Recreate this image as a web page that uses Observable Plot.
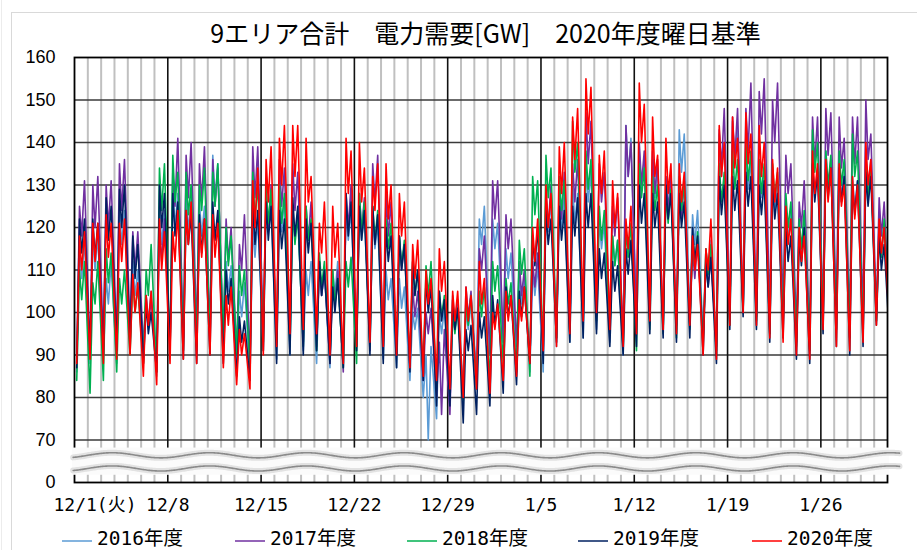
<!DOCTYPE html>
<html><head><meta charset="utf-8">
<script src="https://cdn.jsdelivr.net/npm/d3@7"></script>
<script src="https://cdn.jsdelivr.net/npm/@observablehq/plot@0.6"></script>
<style>
html,body{margin:0;padding:0;background:#fff;}
body{width:917px;height:550px;overflow:hidden;position:relative;font-family:"Liberation Sans","Noto Sans CJK JP",sans-serif;}
#frame{position:absolute;left:11px;top:12px;width:920px;height:560px;border-left:1.5px solid #d9d9d9;border-top:1.5px solid #d9d9d9;}
#frame2{position:absolute;left:1px;top:0;width:1px;height:550px;background:#ececec;}
#title{position:absolute;top:17px;left:54px;width:863px;text-align:center;font-family:"Noto Sans CJK JP",sans-serif;font-size:25px;line-height:30px;color:#000;white-space:pre;}
#chart{position:absolute;left:0;top:0;}
#legend{position:absolute;top:527px;left:0;width:917px;height:23px;font-family:"DejaVu Sans Mono","Noto Sans CJK JP",monospace;font-size:19.5px;}
.item{position:absolute;top:0;height:23px;display:flex;align-items:center;white-space:nowrap;}
.item span{line-height:23px;}
.item svg{margin-right:5px;}
</style></head>
<body>
<div id="frame2"></div>
<div id="frame"></div>
<div id="chart"></div>
<div id="title"></div>
<div id="legend"></div>
<script>
// ---- labels ----
const titleText = "9エリア合計　電力需要[GW]　2020年度曜日基準";
const seriesNames = ["2016年度", "2017年度", "2018年度", "2019年度", "2020年度"];
const seriesColors = ["#5B9BD5", "#7030A0", "#00B050", "#002060", "#FF0000"];
const xTickDays = [0, 7, 14, 21, 28, 35, 42, 49, 56];
const xTickLabels = ["12/1(火)", "12/8", "12/15", "12/22", "12/29", "1/5", "1/12", "1/19", "1/26"];
const yTicks = [60, 70, 80, 90, 100, 110, 120, 130, 140, 150, 160];
const yTickLabels = ["0", "70", "80", "90", "100", "110", "120", "130", "140", "150", "160"];
const dayCount = 61; // 12/1 .. 1/30

// ---- daily readings per series [GW]: night trough (~4h), morning peak (~9h), midday (~13h), evening peak (~18h) ----
const low2016 = [86,88,89,88,91,88,85,90,91,91, 92,92,89,86,91,89,90,91,88,87, 90,92,92,89,87,84,80,75,78,82, 86,90,93,90,86,86,92,93,94,96, 93,90,98,97,96,96,99,94,91,99, 100,97,95,96,92,91,97,96,94,95, 98,100];
const am2016  = [115,118,108,125,112,104,125,130,128,126, 137,112,105,120,128,128,125,110,112,110, 125,125,122,110,108,100,90,100,104,101, 122,122,115,108,110,128,128,130,135,122, 118,144,138,136,132,143,123,115,142,145, 138,135,132,125,120,135,138,135,132,138, 122];
const mid2016 = [108,110,102,116,104,98,116,120,119,118, 126,105,99,113,119,119,117,104,104,104, 117,117,115,103,101,96,70,95,98,96, 116,115,108,102,104,119,120,121,126,115, 111,132,129,127,124,133,116,109,132,135, 129,127,124,117,114,127,129,127,124,129, 114];
const pm2016  = [117,118,112,124,110,105,124,128,127,125, 135,111,107,122,126,127,124,112,110,112, 124,123,121,108,106,101,92,101,103,102, 125,121,114,109,111,126,127,128,133,121, 117,141,136,134,130,142,124,117,140,143, 136,134,131,124,122,134,136,133,131,136, 120];

const low2017 = [88,90,92,93,96,92,88,92,94,95, 95,94,90,88,96,94,94,93,92,88, 86,92,91,92,90,87,84,80,76,80, 83,90,93,92,88,90,94,95,97,100, 97,94,98,98,96,97,97,94,92,98, 100,99,98,100,96,94,100,100,98,99, 100,96];
const am2017  = [125,130,130,135,119,104,120,133,137,135, 136,122,116,139,128,136,135,125,112,108, 128,128,135,128,118,106,100,93,100,106, 115,131,123,112,112,128,130,135,147,135, 125,144,140,138,132,130,115,112,143,146, 148,152,150,137,126,146,148,146,146,150, 127];
const mid2017 = [118,120,120,124,110,97,112,125,127,126, 125,112,110,127,120,125,124,117,104,102, 120,119,126,118,110,99,95,76,96,99, 110,122,115,104,106,120,122,126,135,126, 118,132,130,128,124,122,108,106,134,136, 138,142,140,128,120,135,137,134,135,136, 118];
const pm2017  = [131,132,131,136,119,103,122,141,140,139, 134,120,123,139,130,134,133,126,110,110, 130,127,137,126,116,105,101,96,102,105, 118,131,122,110,114,130,133,136,145,133, 127,140,138,136,133,131,117,113,148,148, 154,155,154,135,131,146,147,141,146,142, 126];

const low2018 = [84,81,84,86,90,88,86,90,91,92, 93,93,90,87,93,93,92,92,91,89, 87,88,92,92,90,88,85,82,80,79, 82,84,88,86,85,91,94,95,97,98, 95,91,91,96,95,94,96,92,90,97, 100,98,95,97,93,91,98,96,94,95, 98,95];
const am2018  = [110,107,115,108,108,110,134,137,133,130, 133,120,111,133,130,130,124,125,114,110, 112,128,125,122,118,112,111,105,100,103, 105,112,108,117,132,137,132,145,138,125, 118,120,135,132,128,132,118,115,135,138, 140,136,135,128,122,143,138,138,142,135, 120];
const mid2018 = [103,102,107,102,100,104,124,126,123,124, 125,111,104,122,121,121,116,117,106,102, 106,119,117,115,111,104,104,99,95,97, 99,105,102,109,123,127,124,133,129,117, 111,113,127,124,121,124,111,109,126,129, 131,128,127,120,115,133,130,130,132,127, 113];
const pm2018  = [112,112,114,110,106,116,135,133,130,134, 135,118,110,130,129,128,123,122,112,108, 113,126,124,121,117,110,112,104,101,104, 106,111,107,115,131,134,131,140,136,124, 117,121,134,130,129,131,119,116,133,136, 138,135,133,126,124,140,137,136,138,134, 122];

const low2019 = [87,90,90,91,92,88,86,91,89,88, 90,88,85,84,91,88,90,90,91,88, 87,91,90,88,87,86,84,78,78,74, 76,78,81,83,88,88,93,93,94,95, 92,90,92,95,94,93,94,90,88,96, 99,96,93,94,89,88,95,92,90,92, 97,93];
const am2019  = [122,122,127,129,118,102,130,128,124,123, 126,110,99,126,126,124,127,122,112,106, 128,125,125,120,118,112,108,105,103,96, 100,104,106,105,118,124,125,125,128,115, 112,115,130,128,130,128,120,112,132,132, 133,130,130,120,118,135,135,134,130,133, 118];
const mid2019 = [114,113,117,120,108,95,120,118,116,114, 117,102,93,116,117,115,118,114,104,100, 118,117,116,112,110,104,100,98,96,91, 94,97,99,99,111,116,117,118,120,108, 105,109,121,120,122,120,112,106,123,124, 125,123,122,112,111,126,127,126,123,125, 110];
const pm2019  = [122,121,125,130,116,100,128,126,123,122, 124,108,98,124,125,122,125,121,110,108, 126,124,123,118,116,110,106,103,101,97, 99,103,104,106,120,122,124,127,128,114, 111,117,128,126,128,126,118,113,130,131, 132,131,128,118,120,133,134,132,131,132, 116];

const low2020 = [88,89,88,89,90,85,83,88,89,88, 90,87,83,82,90,92,95,96,95,90, 88,92,93,92,90,87,85,84,82,80, 82,81,84,85,88,91,92,95,98,100, 96,92,95,98,96,95,97,90,89,97, 100,97,94,93,90,89,96,92,91,93, 97,95];
const am2020  = [118,121,123,121,109,104,122,119,124,121, 123,104,96,131,136,141,144,141,121,125, 141,140,132,135,128,116,110,115,105,106, 112,100,105,103,120,130,139,146,155,137, 131,122,154,146,141,135,118,115,144,146, 147,144,136,125,120,138,136,135,132,140, 122];
const mid2020 = [110,112,113,112,100,97,110,112,116,113, 113,97,90,120,126,130,132,126,114,113, 128,126,124,122,118,108,102,105,98,98, 102,96,98,98,112,120,128,136,142,128, 120,115,140,132,128,126,110,110,132,134, 135,132,126,116,112,128,126,125,122,130, 114];
const pm2020  = [119,121,121,122,107,105,119,124,126,122, 121,106,95,134,139,144,144,132,126,121, 138,134,135,130,126,117,108,112,105,104, 108,102,104,106,122,128,140,148,153,138, 128,125,149,137,135,133,116,122,140,141, 142,140,134,122,118,135,134,130,130,136, 120];

const readings = [
  [low2016, am2016, mid2016, pm2016],
  [low2017, am2017, mid2017, pm2017],
  [low2018, am2018, mid2018, pm2018],
  [low2019, am2019, mid2019, pm2019],
  [low2020, am2020, mid2020, pm2020]
];
const readingHours = [4, 9, 13, 18];

// Build point table (x in days from 12/1 00:00)
const points = [];
readings.forEach((arrs, si) => {
  const name = seriesNames[si];
  for (let d = 0; d < dayCount; d++) {
    arrs.forEach((arr, k) => points.push({x: d + readingHours[k] / 24, y: arr[d], s: name}));
  }
  points.push({x: dayCount + readingHours[0] / 24, y: arrs[0][dayCount], s: name});
});

// decorative axis-break band (not data)
const breakWave = [];
for (let i = 0; i <= 620; i++) {
  const t = -0.1 + i * 0.1;
  const w = Math.sin(2 * Math.PI * (t - 1.0) / 7.3) * 0.6;
  breakWave.push({t, top: 66.4 + w, bot: 63.3 + w});
}

const dayGrid = d3.range(1, dayCount).filter(d => d % 7 !== 0);
const weekGrid = xTickDays.filter(d => d > 0);
const hGrid = yTicks.filter(v => v > 60 && v < 160);
const xLabelFont = '"DejaVu Sans Mono","Noto Sans CJK JP",monospace';

const plot = Plot.plot({
  width: 917,
  height: 520,
  marginLeft: 74,
  marginRight: 30,
  marginTop: 57,
  marginBottom: 38,
  style: {fontFamily: '"Liberation Sans","Noto Sans CJK JP",sans-serif', fontSize: "18px", color: "#000", background: "transparent"},
  x: {domain: [0, dayCount], axis: null},
  y: {domain: [60, 160], axis: null},
  color: {domain: seriesNames, range: seriesColors},
  marks: [
    Plot.ruleX(dayGrid, {x: d => d, y1: 60, y2: 160, stroke: "#c0c0c0", strokeWidth: 2}),
    Plot.ruleY(hGrid, {y: d => d, x1: 0, x2: dayCount, stroke: "#3a3a3a", strokeWidth: 1.6}),
    Plot.ruleX(weekGrid, {x: d => d, y1: 60, y2: 160, stroke: "#111", strokeWidth: 1.6}),
    Plot.line(points, {x: "x", y: "y", z: "s", stroke: "s", strokeWidth: 1.6, clip: true}),
    Plot.frame({stroke: "#000", strokeWidth: 1.8}),
    Plot.rect([0], {x1: -0.15, x2: dayCount + 0.15, y1: 61.7, y2: 68.1, fill: "#fbfbfb"}),
    Plot.line(breakWave, {x: "t", y: "top", stroke: "#e2e2e2", strokeWidth: 6, curve: "natural"}),
    Plot.line(breakWave, {x: "t", y: "bot", stroke: "#e2e2e2", strokeWidth: 6, curve: "natural"}),
    Plot.line(breakWave, {x: "t", y: "top", stroke: "#8a8a8a", strokeWidth: 1.6, curve: "natural"}),
    Plot.line(breakWave, {x: "t", y: "bot", stroke: "#8a8a8a", strokeWidth: 1.6, curve: "natural"}),
    Plot.axisY(yTicks, {tickSize: 0, tickPadding: 19, tickFormat: d => yTickLabels[yTicks.indexOf(d)], fontSize: 18}),
    Plot.text(xTickDays.slice(1), {x: d => d, y: 60, text: d => xTickLabels[xTickDays.indexOf(d)], dy: 23, fontSize: 18,
      fontFamily: xLabelFont, textAnchor: "middle"}),
    Plot.text(xTickDays.slice(0, 1), {x: d => d, y: 60, text: () => xTickLabels[0], dy: 23, dx: -21, fontSize: 18,
      fontFamily: xLabelFont, textAnchor: "start"})
  ]
});
document.getElementById("chart").appendChild(plot);
document.getElementById("title").textContent = titleText;

// legend
const legendX = [62, 235, 407, 578, 752];
const leg = document.getElementById("legend");
seriesNames.forEach((n, i) => {
  const it = document.createElement("div");
  it.className = "item";
  it.style.left = legendX[i] + "px";
  it.innerHTML = `<svg width="30" height="23"><line x1="0" x2="30" y1="14" y2="14" stroke="${seriesColors[i]}" stroke-width="1.5"/></svg><span>${n}</span>`;
  leg.appendChild(it);
});
</script>
</body></html>
